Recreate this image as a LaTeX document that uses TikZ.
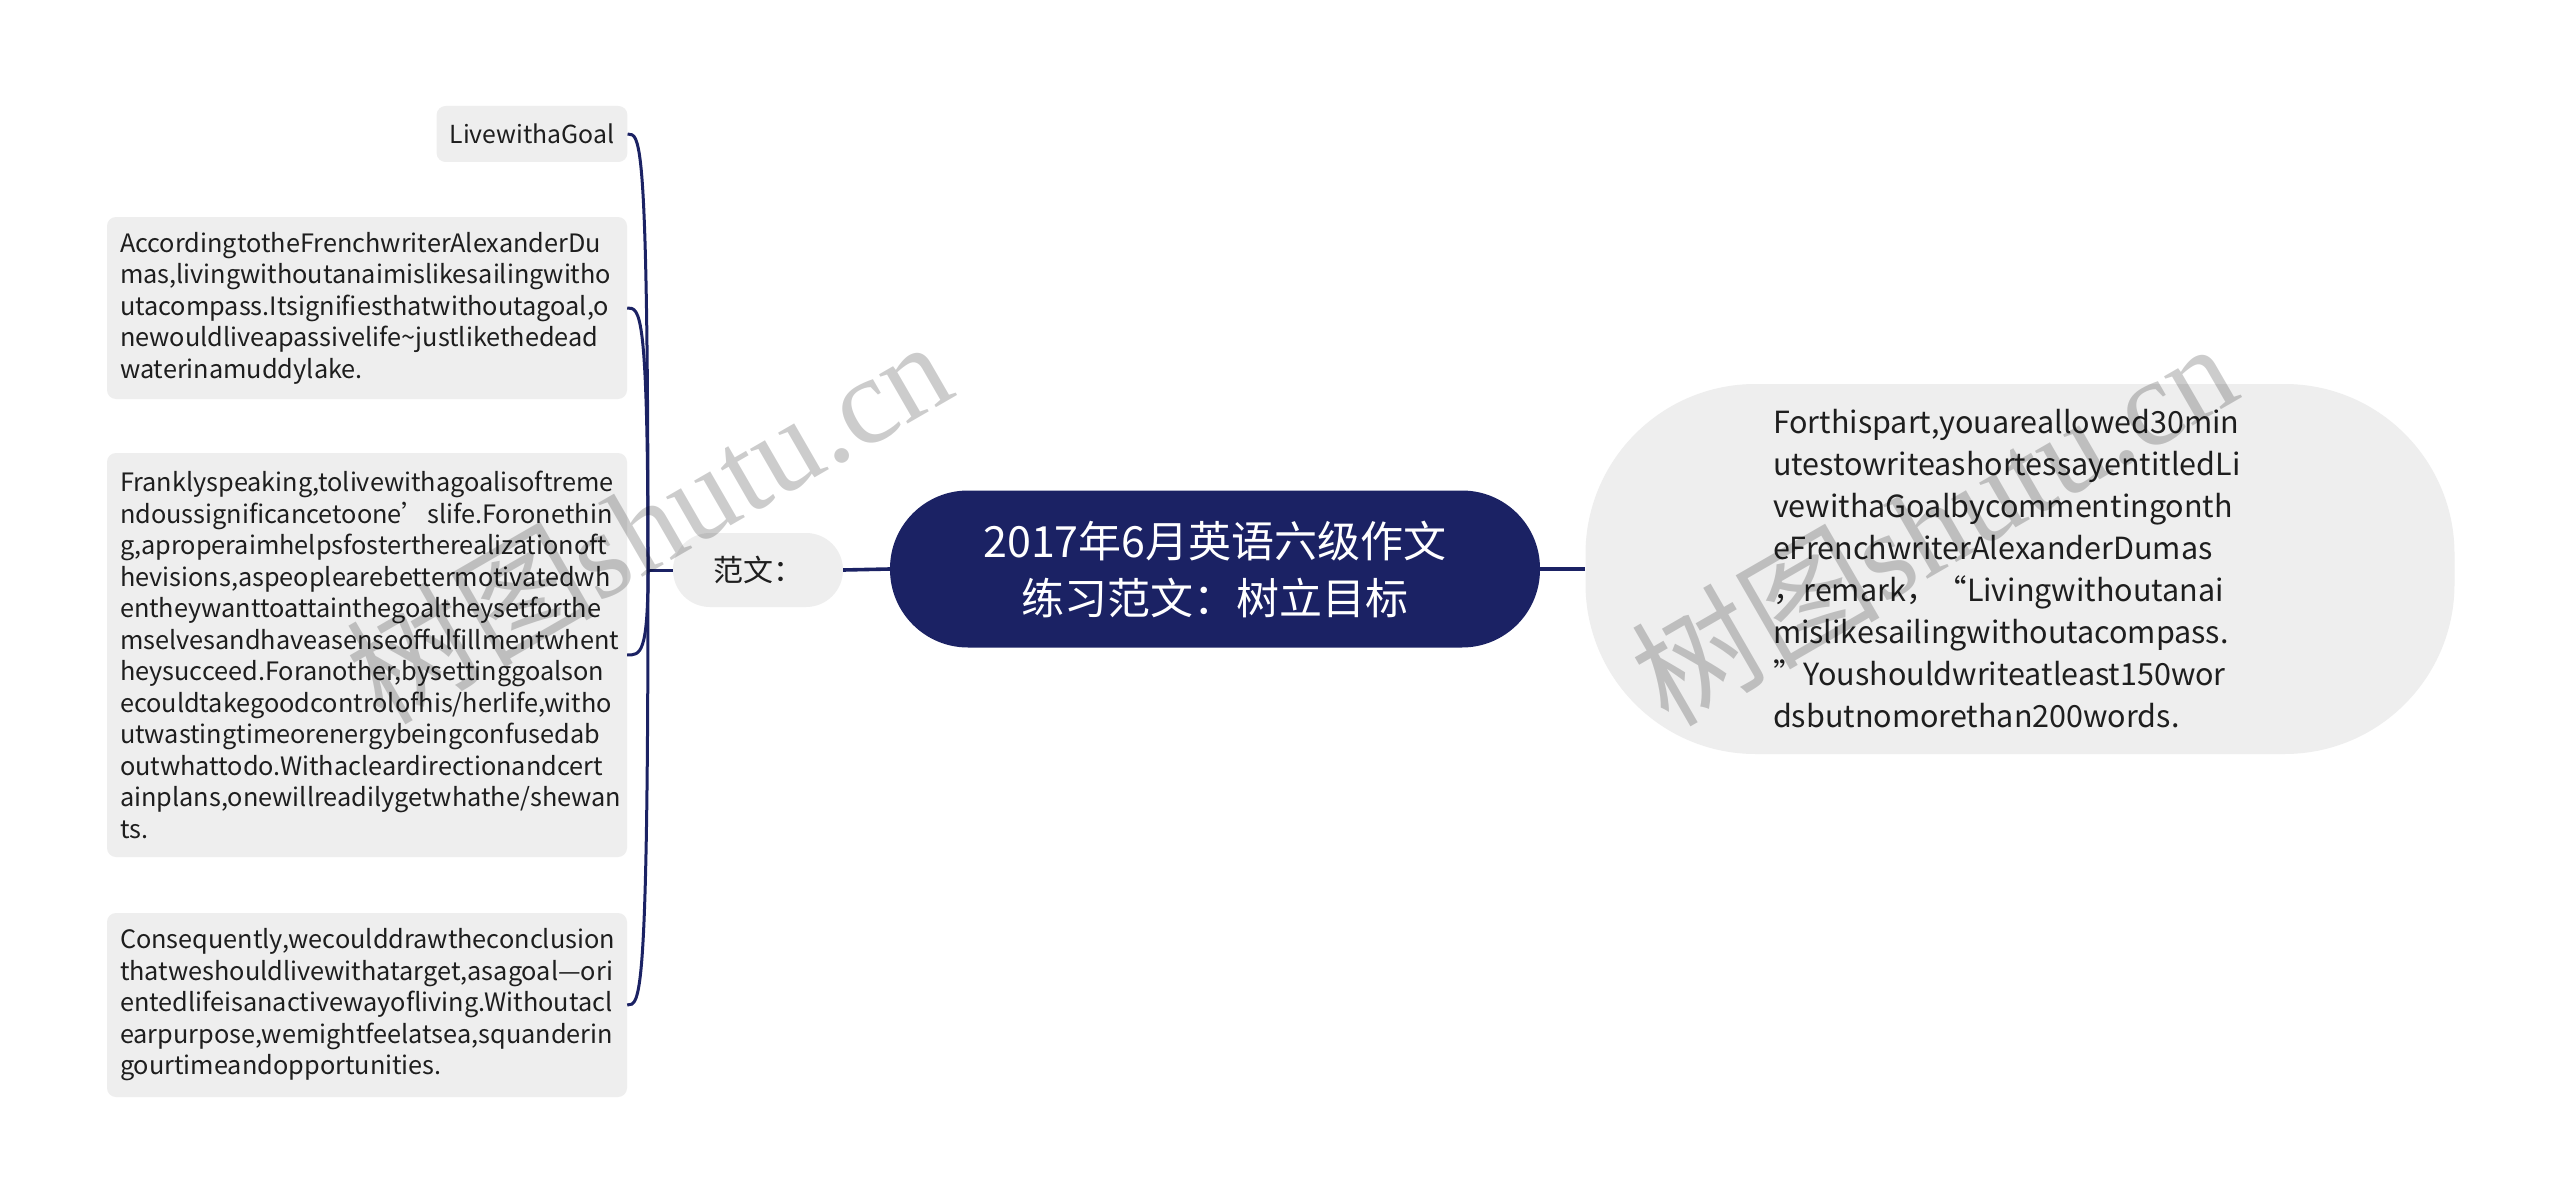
\documentclass[tikz,border=0pt]{standalone}
\usepackage{fontspec}
\setmainfont{Noto Sans CJK SC}
\newfontfamily\wmserif{Liberation Serif}
\definecolor{navy}{RGB}{27,34,100}
\definecolor{leafgray}{RGB}{238,238,238}
\definecolor{txt}{RGB}{30,30,30}
\hyphenpenalty=10000
\exhyphenpenalty=10000
\hbadness=10000
\hfuzz=100pt
\begin{document}
\begin{tikzpicture}[x=1pt,y=-1pt,
  leaf/.style={fill=leafgray, rounded corners=9pt, text=txt, align=left,
    inner xsep=13pt, inner ysep=0pt, text width=494pt,
    font=\fontsize{25.3}{31.5}\selectfont},
  short/.style={fill=leafgray, rounded corners=9pt, text=txt,
    inner xsep=13pt, inner ysep=0pt, font=\fontsize{24.8}{31.5}\selectfont},
  conn/.style={draw=navy, line width=3pt},
  link/.style={draw=navy, line width=3.6pt},
  wm/.style={text=black, opacity=0.2, font=\fontsize{124}{124}\selectfont, inner sep=0pt}
]
\fill[white] (0,0) rectangle (2560,1204);
\useasboundingbox (0,0) rectangle (2560,1204);

% central node
\node[fill=navy, rounded corners=78pt, minimum width=650pt, minimum height=157pt,
  text=white, align=center, inner sep=0pt, font=\fontsize{43}{57}\selectfont]
  (root) at (1215,569) {2017年6月英语六级作文\\练习范文：树立目标};

% left branch
\node[fill=leafgray, rounded corners=37pt, minimum width=170pt, minimum height=74pt,
  text=txt, inner sep=0pt, font=\fontsize{30}{34}\selectfont]
  (fan) at (758,570) {范文：};

% right node
\node[fill=leafgray, rounded corners=170pt, minimum width=869pt, minimum height=370pt,
  text=txt, align=left, text width=494pt, inner sep=0pt,
  font=\fontsize{30.5}{42}\selectfont]
  (req) at (2020,569) {Forthispart,youareallowed30min\\
utestowriteashortessayentitledLi\\
vewithaGoalbycommentingonth\\
eFrenchwriterAlexanderDumas\\
，remark，“Livingwithoutanai\\
mislikesailingwithoutacompass.\\
”Youshouldwriteatleast150wor\\
dsbutnomorethan200words.};

% leaves
\node[short, minimum width=190pt, minimum height=56pt] (live) at (532,134) {LivewithaGoal};

\node[leaf, minimum height=182pt] (b2) at (367,308) {AccordingtotheFrenchwriterAlexanderDu\\
mas,livingwithoutanaimislikesailingwitho\\
utacompass.Itsignifiesthatwithoutagoal,o\\
newouldliveapassivelife\textasciitilde justlikethedead\\
waterinamuddylake.};

\node[leaf, minimum height=404pt] (b3) at (367,655) {Franklyspeaking,tolivewithagoalisoftreme\\
ndoussignificancetoone’slife.Foronethin\\
g,aproperaimhelpsfostertherealizationoft\\
hevisions,aspeoplearebettermotivatedwh\\
entheywanttoattainthegoaltheysetforthe\\
mselvesandhaveasenseoffulfillmentwhent\\
heysucceed.Foranother,bysettinggoalson\\
ecouldtakegoodcontrolofhis/herlife,witho\\
utwastingtimeorenergybeingconfusedab\\
outwhattodo.Withacleardirectionandcert\\
ainplans,onewillreadilygetwhathe/shewan\\
ts.};

\node[leaf, minimum height=184pt] (b4) at (367,1005) {Consequently,wecoulddrawtheconclusion\\
thatweshouldlivewithatarget,asagoal—ori\\
entedlifeisanactivewayofliving.Withoutacl\\
earpurpose,wemightfeelatsea,squanderin\\
gourtimeandopportunities.};

% connectors
\coordinate (hub) at (648,570);
\draw[link] (root.west) -- (fan.east);
\draw[link] (root.east) -- (req.west);
\draw[conn] (fan.west) -- (hub);
\foreach \c in {live,b2,b3,b4}{
  \draw[conn] (hub) .. controls (hub |- \c.east) and ([xshift=13pt]\c.east) .. (\c.east);
}

% watermarks
\node[wm, rotate=30] (wm1) at (648,520) {树图{\wmserif shutu.cn}};
\node[wm, rotate=30] (wm2) at (1933,522) {树图{\wmserif shutu.cn}};
\end{tikzpicture}
\end{document}
